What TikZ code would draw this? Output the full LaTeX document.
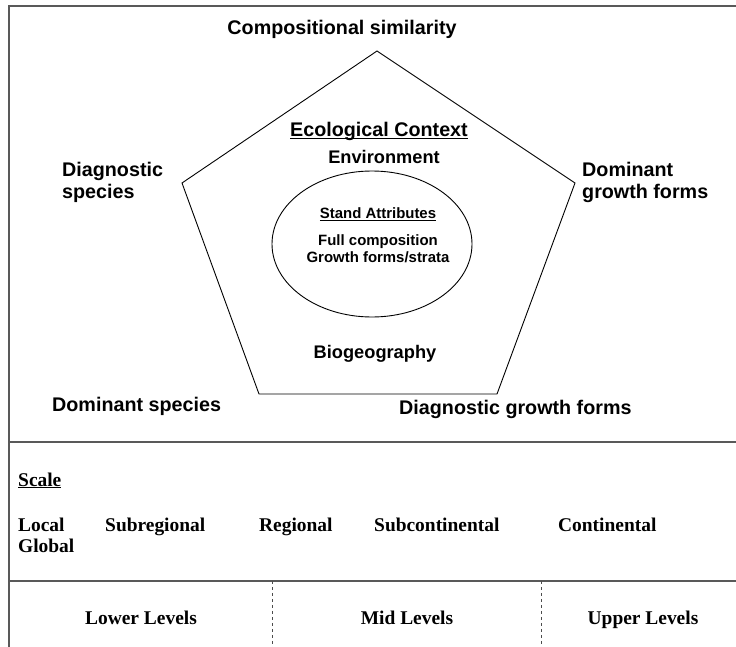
\documentclass[tikz,border=0pt]{standalone}
\usepackage{fontspec}
\setmainfont{Liberation Serif}
\setsansfont{Liberation Sans}
\usetikzlibrary{positioning}

% underline set just under the baseline
\newcommand\ulbar[1]{\setbox0\hbox{#1}\rlap{\rule[-2.2bp]{\wd0}{1.3bp}}\box0}

\tikzset{
  frameline/.style={draw=black!65, line width=1.2bp},
  bigsans/.style={font=\sffamily\bfseries\fontsize{19.8}{23}\selectfont, inner sep=0pt},
  midsans/.style={font=\sffamily\bfseries\fontsize{18.3}{22}\selectfont, inner sep=0pt},
  smallsans/.style={font=\sffamily\bfseries\fontsize{15}{17}\selectfont, inner sep=0pt},
  scaletext/.style={font=\rmfamily\bfseries\fontsize{19.5}{22}\selectfont, inner sep=0pt},
}

\begin{document}
\begin{tikzpicture}[x=1bp, y=-1bp]
            \useasboundingbox (0,0) rectangle (736,647);

            % Outer frame and dividers
            \draw[frameline] (736,6) -- (9,6) -- (9,647);
            \draw[frameline] (9,442) -- (736,442);
            \draw[frameline] (9,581) -- (736,581);
            \draw[black!70, dashed, line width=0.6bp] (272,581) -- (272,647);
            \draw[black!70, dashed, line width=0.6bp] (541,581) -- (541,647);

            % Pentagon
            \coordinate (ptop) at (377,51);
            \coordinate (pright) at (575,183);
            \coordinate (pbr) at (497,394);
            \coordinate (pbl) at (259,394);
            \coordinate (pleft) at (182,183);
            \draw[line width=0.9bp] (ptop) -- (pright) -- (pbr) -- (pbl) -- (pleft) -- cycle;

            % Stand ellipse
            \draw[line width=0.9bp] (372,244) ellipse [x radius=100, y radius=73];

            % Corner labels
            \node[bigsans, anchor=base] (compsim) at (342,35) {Compositional similarity};
            \node[bigsans, anchor=base west] (diag1) at (62,177) {Diagnostic};
            \node[bigsans, anchor=base west] (diag2) at (62,199) {species};
            \node[bigsans, anchor=base west] (domg1) at (582,177) {Dominant};
            \node[bigsans, anchor=base west] (domg2) at (582,199) {growth forms};
            \node[bigsans, anchor=base west] (domsp) at (52,411) {Dominant species};
            \node[bigsans, anchor=base west] (diaggf) at (399,414) {Diagnostic growth forms};

            % Inside the pentagon
            \node[bigsans, anchor=base] (ecocon) at (379,137) {\ulbar{Ecological Context}};
            \node[midsans, anchor=base] (envir) at (384,164) {Environment};
            \node[smallsans, anchor=base] (stand) at (378,219) {\ulbar{Stand Attributes}};
            \node[smallsans, anchor=base] (fullc) at (378,245) {Full composition};
            \node[smallsans, anchor=base] (growf) at (378,262) {Growth forms/strata};
            \node[midsans, anchor=base] (biogeo) at (375,358) {Biogeography};

            % Scale row
            \node[scaletext, anchor=base west] (scale) at (18,486) {\ulbar{Scale}};
            \node[scaletext, anchor=base west] (local) at (18,531) {Local};
            \node[scaletext, anchor=base west] (global) at (18,552) {Global};
            \node[scaletext, anchor=base west] (subreg) at (105,531) {Subregional};
            \node[scaletext, anchor=base west] (reg) at (259,531) {Regional};
            \node[scaletext, anchor=base west] (subcont) at (374,531) {Subcontinental};
            \node[scaletext, anchor=base west] (cont) at (558,531) {Continental};

            % Levels row
            \node[scaletext, anchor=base] (lower) at (141,624) {Lower Levels};
            \node[scaletext, anchor=base] (mid) at (407,624) {Mid Levels};
            \node[scaletext, anchor=base] (upper) at (643,624) {Upper Levels};
\end{tikzpicture}
\end{document}
